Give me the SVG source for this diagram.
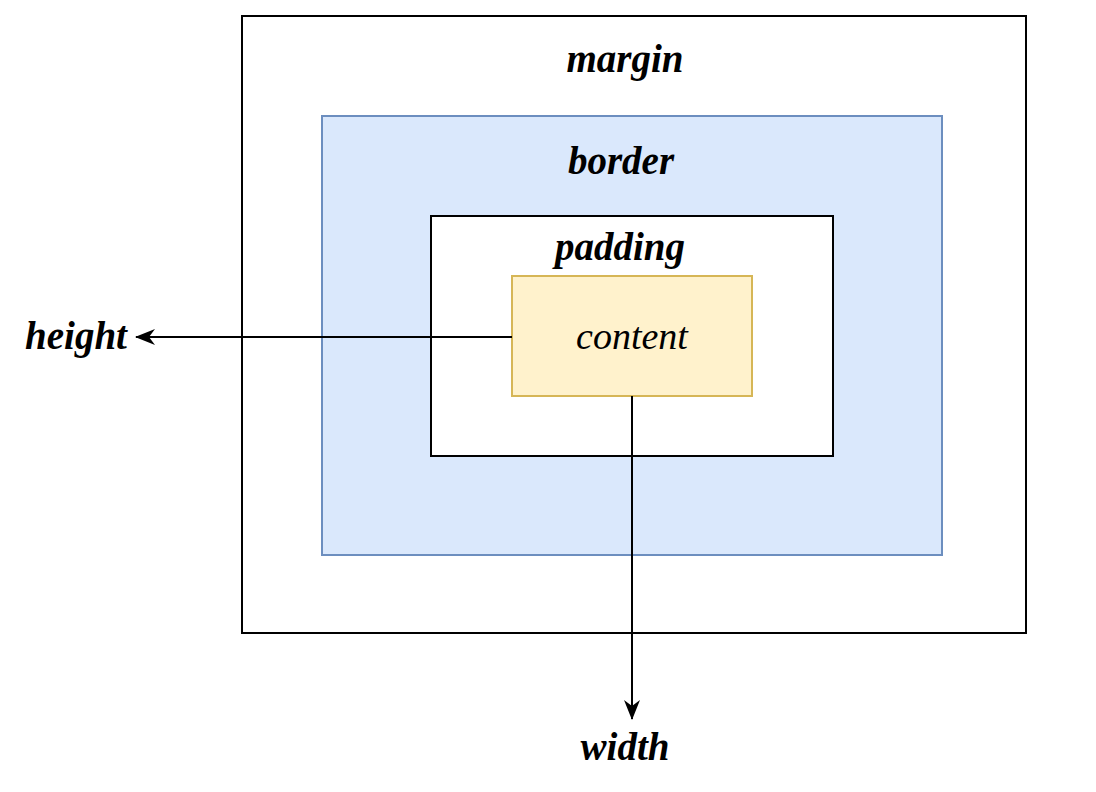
<svg xmlns="http://www.w3.org/2000/svg" width="1096" height="792" viewBox="0 0 1096 792">
<style>
.lbl{font-family:"Liberation Serif","DejaVu Serif",serif;font-size:39px;font-style:italic;font-weight:bold;fill:#000;text-anchor:middle}
.ct{font-family:"Liberation Serif","DejaVu Serif",serif;font-size:38px;font-style:italic;fill:#000;text-anchor:middle}
.edge{stroke:#000;stroke-width:2;fill:none}
</style>
<defs>
<marker id="ah" viewBox="0 0 20 16" refX="19" refY="8" markerWidth="20" markerHeight="16" markerUnits="userSpaceOnUse" orient="auto">
<path d="M0,0 L20,8 L0,16 L6,8 Z" fill="#000"/>
</marker>
</defs>
<rect width="1096" height="792" fill="#fff"/>
<g id="margin"><rect x="242" y="16" width="784" height="617" fill="#fff" stroke="#000" stroke-width="2"/><text class="lbl" x="625" y="72">margin</text></g>
<g id="border"><rect x="322" y="116" width="620" height="439" fill="#dae8fc" stroke="#6c8ebf" stroke-width="2"/><text class="lbl" x="621" y="174">border</text></g>
<g id="padding"><rect x="431" y="216" width="402" height="240" fill="#fff" stroke="#000" stroke-width="2"/><text class="lbl" x="620" y="260">padding</text></g>
<g id="content"><rect x="512" y="276" width="240" height="120" fill="#fff2cc" stroke="#d6b656" stroke-width="2"/><text class="ct" x="632" y="349">content</text></g>
<g id="height"><text class="lbl" x="76" y="349">height</text></g>
<g id="width"><text class="lbl" x="625" y="760">width</text></g>
<g id="connectors">
<path class="edge" d="M512,337 L136,337" marker-end="url(#ah)"/>
<path class="edge" d="M632,396 L632,719" marker-end="url(#ah)"/>
</g>
</svg>
